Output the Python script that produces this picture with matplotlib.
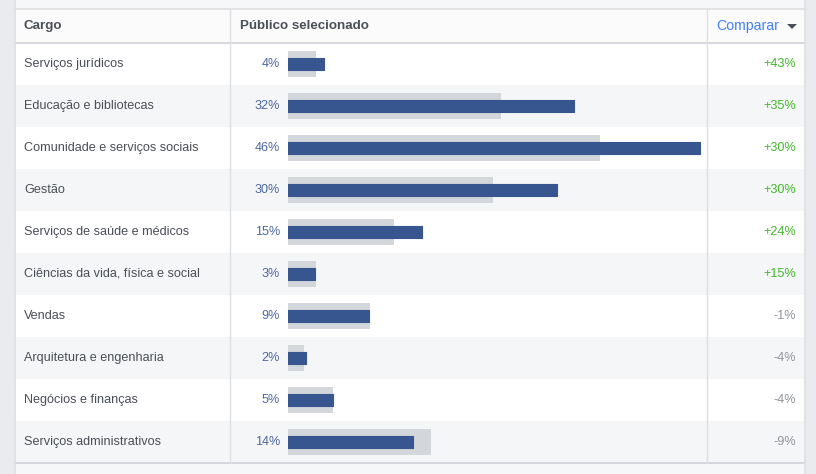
import matplotlib
matplotlib.use("Agg")
import matplotlib.pyplot as plt
from matplotlib.patches import Rectangle, Polygon

plt.rcParams['font.family'] = ['Liberation Sans', 'DejaVu Sans']

categorias = ["Serviços jurídicos", "Educação e bibliotecas",
              "Comunidade e serviços sociais", "Gestão",
              "Serviços de saúde e médicos", "Ciências da vida, física e social",
              "Vendas", "Arquitetura e engenharia", "Negócios e finanças",
              "Serviços administrativos"]
selecionado = [4, 32, 46, 30, 15, 3, 9, 2, 5, 14]
referencia = [3.1, 23.8, 34.9, 22.9, 11.8, 3.1, 9.2, 1.8, 5.0, 16.0]
comparar = ["+43%", "+35%", "+30%", "+30%", "+24%", "+15%",
            "-1%", "-4%", "-4%", "-9%"]

W, H = 816, 474
fig = plt.figure(figsize=(W / 100, H / 100), dpi=100)
fig.patch.set_facecolor("#e9ebee")

# pixel axes for table structure
ax = fig.add_axes([0, 0, 1, 1])
ax.set_xlim(0, W)
ax.set_ylim(H, 0)
ax.axis("off")

line_c = "#dddfe2"
left, right = 15, 805
top_h, head_b = 9, 43
row_h = 42
n = len(categorias)
bottom = head_b + row_h * n

ax.add_patch(Rectangle((left, 0), right - left, top_h, fc="#f6f7f9", ec="none"))
ax.add_patch(Rectangle((left, top_h), right - left, head_b - top_h, fc="#fbfbfc", ec="none"))
for i in range(n):
    fc = "#ffffff" if i % 2 == 0 else "#f5f6f7"
    ax.add_patch(Rectangle((left, head_b + i * row_h), right - left, row_h, fc=fc, ec="none"))
ax.add_patch(Rectangle((left, bottom), right - left, H - bottom, fc="#f6f7f9", ec="none"))

ax.plot([left, right], [top_h - 0.5, top_h - 0.5], color=line_c, lw=1.2)
ax.plot([left, right], [head_b - 0.5, head_b - 0.5], color="#cfd2d8", lw=1.2)
ax.plot([left, right], [bottom, bottom], color="#cfd2d8", lw=1.2)
ax.plot([left, left], [0, H], color=line_c, lw=1.2)
ax.plot([right, right], [0, H], color=line_c, lw=1.2)
for xc in (230, 707):
    ax.plot([xc, xc], [top_h, bottom], color=line_c, lw=1)

txt_c = "#4b4f56"
ax.text(24, 26, "Cargo", fontsize=9.6, fontweight="bold", color=txt_c, va="center")
ax.text(240, 26, "Público selecionado", fontsize=9.6, fontweight="bold", color=txt_c, va="center")
ax.text(716, 26, "Comparar", fontsize=10.2, color="#4080ff", va="center")
ax.add_patch(Polygon([[787, 24], [797, 24], [792, 29]], closed=True, fc="#4b4f56", ec="none"))

for i, (cat, val, cmp) in enumerate(zip(categorias, selecionado, comparar)):
    yc = head_b + i * row_h + row_h / 2
    ax.text(24, yc, cat, fontsize=9.1, color=txt_c, va="center")
    ax.text(280, yc, f"{val}%", fontsize=9.1, color="#4b67a1", va="center", ha="right")
    cc = "#42b72a" if cmp.startswith("+") else "#90949c"
    ax.text(796, yc, cmp, fontsize=9.1, color=cc, va="center", ha="right")

# bar axes in percent units
px_per_pct = 8.95
bx0, bx1 = 288, 705
bax = fig.add_axes([bx0 / W, 1 - bottom / H, (bx1 - bx0) / W, (bottom - head_b) / H])
bax.set_xlim(0, (bx1 - bx0) / px_per_pct)
bax.set_ylim(n - 0.5, -0.5)
bax.axis("off")
bax.patch.set_alpha(0)
ypos = list(range(n))
bax.barh(ypos, referencia, height=0.61, color="#d3d6db", left=0)
bax.barh(ypos, selecionado, height=0.27, color="#37558f", left=0,
         edgecolor="#37558f", linewidth=0.8, joinstyle="round")

fig.savefig("out.png", dpi=100)
